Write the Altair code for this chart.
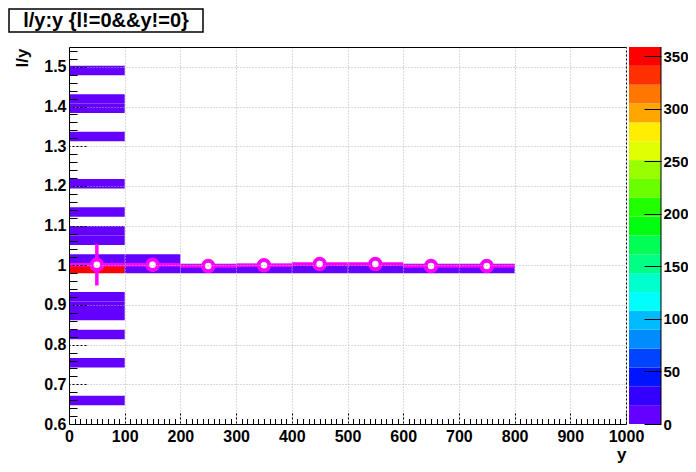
import altair as alt
import pandas as pd

# ---------------- data ----------------
# 2D histogram cells (lower bin edges) and their contents
cell_x_lo = [0] * 16 + [100, 100] + [200, 300, 400, 500, 600, 700]
cell_y_lo = [0.6475, 0.7425, 0.81375, 0.86125, 0.885, 0.90875, 0.98, 1.00375,
             1.05125, 1.075, 1.1225, 1.19375, 1.3125, 1.38375, 1.4075, 1.47875,
             0.98, 1.00375,
             0.98, 0.98, 0.98, 0.98, 0.98, 0.98]
cell_counts = [1, 1, 1, 1, 1, 1, 359, 1, 1, 1, 1, 1, 1, 1, 1, 1,
               5, 3,
               4, 3, 5, 4, 3, 4]
X_BIN_W = 100
Y_BIN_W = 0.02375

# profile (mean of l/y per y bin)
prof_x_lo = [0, 100, 200, 300, 400, 500, 600, 700]
prof_mean = [1.001, 1.001, 0.998, 1.000, 1.003, 1.003, 0.998, 0.998]
prof_err = [0.052, 0.011, 0.0, 0.0, 0.0, 0.0, 0.0, 0.0]

# colour palette (ROOT pretty palette, 20 contour levels)
Z_MAX = 359
palette = ["#6300FF", "#3300FF", "#0014FF", "#0044FF", "#008BFF", "#00BBFF",
           "#00FFFC", "#00FFCC", "#00FF85", "#00FF55", "#00FF0E", "#22FF00",
           "#69FF00", "#99FF00", "#E0FF00", "#FFEE00", "#FFA700", "#FF7700",
           "#FF3000", "#FF0000"]
cbar_ticks = [0, 50, 100, 150, 200, 250, 300, 350]

x_ticks = list(range(0, 1001, 100))
x_minor = [v for v in range(0, 1001, 10) if v % 100 != 0]
y_ticks = [0.6, 0.7, 0.8, 0.9, 1.0, 1.1, 1.2, 1.3, 1.4, 1.5]
y_minor = [round(0.6 + 0.02 * i, 2) for i in range(48) if i % 5 != 0]

title_text = "l/y:y {l!=0&&y!=0}"

# ---------------- tables ----------------
cells = pd.DataFrame({
    "x_lo": cell_x_lo,
    "x_hi": [v + X_BIN_W for v in cell_x_lo],
    "y_lo": cell_y_lo,
    "y_hi": [v + Y_BIN_W for v in cell_y_lo],
    "count": cell_counts,
})
prof = pd.DataFrame({
    "x_lo": prof_x_lo,
    "x_hi": [v + X_BIN_W for v in prof_x_lo],
    "x_c": [v + X_BIN_W / 2 for v in prof_x_lo],
    "mean": prof_mean,
    "lo": [m - e for m, e in zip(prof_mean, prof_err)],
    "hi": [m + e for m, e in zip(prof_mean, prof_err)],
})
n = len(palette)
bands = pd.DataFrame({
    "lo": [i * Z_MAX / n for i in range(n)],
    "hi": [(i + 1) * Z_MAX / n for i in range(n)],
    "mid": [(i + 0.5) * Z_MAX / n for i in range(n)],
})

FONT = "Liberation Sans"
W, H = 557, 377
MAG = "#FF00FF"

def xs():
    return alt.Scale(domain=[0, 1000], nice=False, zero=False)

def ys():
    return alt.Scale(domain=[0.6, 1.55], nice=False, zero=False)

def cs():
    return alt.Scale(type="quantize", domain=[0, Z_MAX], range=palette, nice=False)

def tick_axis(orient, offset, size, values, dash=None):
    kw = dict(orient=orient, offset=offset, tickSize=size, values=values,
              labels=False, domain=False, grid=False, title=None,
              tickColor="black", tickWidth=1, zindex=1)
    if dash:
        kw["tickDash"] = dash
    return alt.Axis(**kw)

hist = alt.Chart(cells).mark_rect().encode(
    x=alt.X("x_lo:Q", scale=xs(), axis=alt.Axis(
        orient="bottom", values=x_ticks, format="d", labelFont=FONT,
        labelFontWeight="bold", labelFontSize=16, labelColor="black",
        labelPadding=4, labelFlush=False, labelOverlap=False, ticks=False,
        tickSize=0, domainColor="black", domainWidth=1, grid=True,
        gridDash=[1, 2], gridColor="#b4b4b4", title="y", titleFont=FONT,
        titleFontWeight="bold", titleFontSize=17, titleColor="black",
        titleAlign="right", titleBaseline="alphabetic", titleX=W, titleY=35,
        zindex=1)),
    x2="x_hi:Q",
    y=alt.Y("y_lo:Q", scale=ys(), axis=alt.Axis(
        orient="left", values=y_ticks, format="~g", labelFont=FONT,
        labelFontWeight="bold", labelFontSize=16, labelColor="black",
        labelPadding=3, labelFlush=False, labelOverlap=False, ticks=False,
        tickSize=0, domainColor="black", domainWidth=1, grid=True,
        gridDash=[1, 2], gridColor="#b4b4b4", title="l/y", titleFont=FONT,
        titleFontWeight="bold", titleFontSize=17, titleColor="black",
        titleAngle=270, titleAlign="right", titleBaseline="middle",
        titleX=-47, titleY=1, zindex=1)),
    y2="y_hi:Q",
    color=alt.Color("count:Q", scale=cs(), legend=None),
)

prof_lines = alt.Chart(prof).mark_rule(color=MAG, strokeWidth=3.5).encode(
    x=alt.X("x_lo:Q", scale=xs(), axis=tick_axis("bottom", -11, 11, x_ticks, [2, 2])),
    x2="x_hi:Q",
    y=alt.Y("mean:Q", scale=ys(), axis=tick_axis("left", -17, 17, y_ticks, [2, 2])),
)

prof_err_l = alt.Chart(prof).mark_rule(color=MAG, strokeWidth=3.5).encode(
    x=alt.X("x_c:Q", scale=xs(), axis=tick_axis("bottom", -5.5, 5.5, x_minor)),
    y=alt.Y("lo:Q", scale=ys(), axis=tick_axis("left", -8, 8, y_minor)),
    y2="hi:Q",
)

prof_pts = alt.Chart(prof).mark_point(
    shape="circle", filled=True, fill="white", stroke=MAG, strokeWidth=4,
    size=110, opacity=1
).encode(
    x=alt.X("x_c:Q", scale=xs(), axis=alt.Axis(
        orient="top", ticks=False, labels=False, grid=False, title=None,
        domainColor="black", domainWidth=1, zindex=1)),
    y=alt.Y("mean:Q", scale=ys(), axis=alt.Axis(
        orient="right", ticks=False, labels=False, grid=False, title=None,
        domainColor="black", domainDash=[2, 2], domainWidth=1, zindex=1)),
)

cbar = alt.Chart(bands).mark_rect().encode(
    x=alt.value(W + 3),
    x2=alt.value(W + 35),
    y=alt.Y("lo:Q", scale=alt.Scale(domain=[0, Z_MAX], nice=False, zero=False),
            axis=alt.Axis(orient="right", offset=18, tickSize=17, values=cbar_ticks,
                          domain=False, grid=False, title=None, tickColor="black",
                          labelFont=FONT, labelFontWeight="bold", labelFontSize=15,
                          labelColor="black", labelPadding=2, labelFlush=False,
                          labelOverlap=False, zindex=1)),
    y2="hi:Q",
    color=alt.Color("mid:Q", scale=cs(), legend=None),
)

one = pd.DataFrame({"t": [title_text]})
cbar_border = alt.Chart(one).mark_rule(color="black", strokeWidth=1).encode(
    x=alt.value(W + 35), y=alt.value(0), y2=alt.value(H)
)
title_box = alt.Chart(one).mark_rect(fill="white", stroke="black", strokeWidth=1.5).encode(
    x=alt.value(-60), x2=alt.value(134), y=alt.value(-38), y2=alt.value(-15)
)
title_txt = alt.Chart(one).mark_text(
    font=FONT, fontWeight="bold", fontSize=20, color="black",
    align="center", baseline="middle"
).encode(text="t:N", x=alt.value(37), y=alt.value(-26))

chart = alt.layer(
    hist, prof_lines, prof_err_l, prof_pts, cbar, cbar_border, title_box, title_txt
).resolve_scale(
    x="independent", y="independent"
).resolve_axis(
    x="independent", y="independent"
).properties(
    width=W, height=H,
    autosize=alt.AutoSizeParams(type="none"),
    padding={"left": 61, "top": 39, "right": 62, "bottom": 40},
).configure_view(stroke=None)

chart.save("out.html", embed_options={"renderer": "svg", "actions": False})
